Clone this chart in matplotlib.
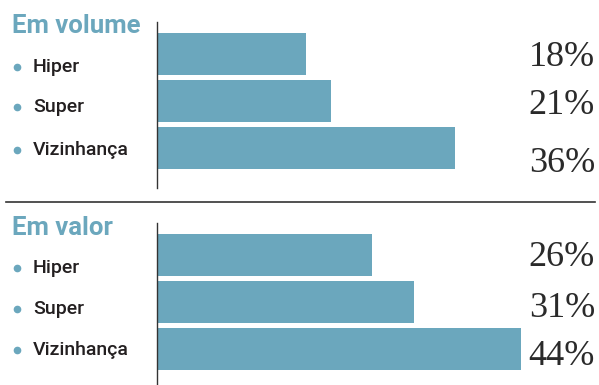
import matplotlib.pyplot as plt
from matplotlib.lines import Line2D
from matplotlib.transforms import blended_transform_factory, offset_copy

# data
categories = ['Hiper', 'Super', 'Vizinhança']
volume = [18, 21, 36]
valor = [26, 31, 44]
titles = ['Em volume', 'Em valor']

bar_color = '#6ba7bd'
text_color = '#231f20'
W, H = 599, 385

fig = plt.figure(figsize=(W / 100, H / 100), dpi=100)

# axes boxes in pixels: (top, bottom)
panels = [(22, 188), (223, 385)]
title_base = [33, 235]
# baseline offsets (px, below bar centre) for category labels and percentages
label_off = [[18, 11, 7], [18, 12, 6]]
pct_off = [[12, 13, 24], [11, 15, 16]]

left_px = 157
px_per_unit = 8.28
xmax = 52

for k, values in enumerate([volume, valor]):
    top, bot = panels[k]
    ax = fig.add_axes([left_px / W, 1 - bot / H, xmax * px_per_unit / W, (bot - top) / H])
    step = 47
    y_top = -32 / step
    ax.set_ylim(y_top + (bot - top) / step, y_top)
    ax.set_xlim(0, xmax)
    ypos = list(range(len(values)))
    ax.barh(ypos, values, height=42 / step, color=bar_color, left=0)
    for s in ['top', 'right', 'bottom']:
        ax.spines[s].set_visible(False)
    ax.spines['left'].set_color('#333333')
    ax.spines['left'].set_linewidth(1.0)
    ax.set_xticks([])
    ax.set_yticks([])
    ax.patch.set_alpha(0)

    tr = blended_transform_factory(fig.transFigure, ax.transData)
    for i, (cat, v) in enumerate(zip(categories, values)):
        t_lab = offset_copy(tr, fig=fig, x=0, y=-label_off[k][i] * 0.72, units='points')
        ax.text(33 / W, i, cat, transform=t_lab, ha='left', va='baseline',
                fontsize=14, fontfamily='Roboto', fontweight='medium', color=text_color)
        t_dot = offset_copy(tr, fig=fig, x=0, y=-(label_off[k][i] - 5) * 0.72, units='points')
        ax.plot([17 / W], [i], 'o', transform=t_dot, color=bar_color, markersize=4.5,
                clip_on=False)
        t_pct = offset_copy(tr, fig=fig, x=0, y=-pct_off[k][i] * 0.72, units='points')
        ax.text(595 / W, i, f'{v}%', transform=t_pct, ha='right', va='baseline',
                fontsize=26, fontfamily='Liberation Serif', color='#2a2a2a')

    fig.text(12 / W, 1 - title_base[k] / H, titles[k], ha='left', va='baseline',
             fontsize=18.5, fontfamily='Roboto', fontweight='bold', color=bar_color)

# divider between the two panels
fig.add_artist(Line2D([6 / W, 595 / W], [1 - 202 / H, 1 - 202 / H],
                      transform=fig.transFigure, color='#333333', linewidth=1.2))

plt.savefig('out.png', dpi=100)
